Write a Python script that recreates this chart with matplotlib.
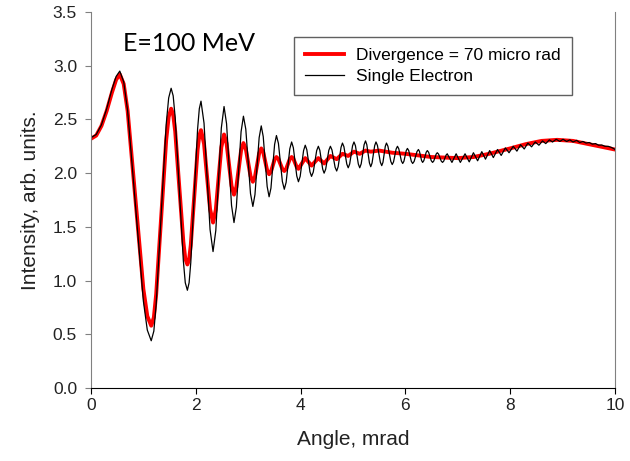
import matplotlib
matplotlib.use("Agg")
import matplotlib.pyplot as plt
import numpy as np

plt.rcParams['font.family'] = ['Liberation Sans', 'DejaVu Sans']

# single electron curve
single_x = [0.00, 0.10, 0.20, 0.30, 0.40, 0.48, 0.55, 0.625, 0.70, 0.85,
            1.00, 1.075, 1.15, 1.20, 1.245, 1.34, 1.435, 1.483, 1.53, 1.569,
            1.608, 1.685, 1.763, 1.80, 1.84, 1.873, 1.905, 1.97, 2.035, 2.068,
            2.10, 2.158, 2.215, 2.273, 2.33, 2.383, 2.435, 2.488, 2.54, 2.588,
            2.635, 2.683, 2.73, 2.775, 2.82, 2.865, 2.91, 2.955, 3.00, 3.045,
            3.09, 3.13, 3.17, 3.21, 3.25, 3.288, 3.325, 3.363, 3.40, 3.435,
            3.47, 3.505, 3.54, 3.578, 3.615, 3.653, 3.69, 3.725, 3.76, 3.795,
            3.83, 3.863, 3.895, 3.928, 3.96, 3.993, 4.025, 4.058, 4.09, 4.12,
            4.15, 4.18, 4.21, 4.243, 4.275, 4.308, 4.34, 4.368, 4.395, 4.423,
            4.45, 4.48, 4.51, 4.54, 4.57, 4.60, 4.63, 4.66, 4.69, 4.718,
            4.745, 4.773, 4.80, 4.828, 4.855, 4.883, 4.91, 4.938, 4.965, 4.993,
            5.02, 5.048, 5.103, 5.13, 5.158, 5.213, 5.24, 5.265, 5.315, 5.34,
            5.365, 5.415, 5.44, 5.468, 5.523, 5.55, 5.573, 5.618, 5.64, 5.668,
            5.723, 5.75, 5.775, 5.825, 5.85, 5.875, 5.925, 5.95, 5.973, 6.018,
            6.04, 6.065, 6.115, 6.14, 6.168, 6.223, 6.25, 6.27, 6.31, 6.33,
            6.353, 6.398, 6.42, 6.445, 6.495, 6.52, 6.543, 6.588, 6.61, 6.635,
            6.685, 6.71, 6.733, 6.778, 6.80, 6.89, 6.97,
            7.05, 7.14, 7.22, 7.30, 7.38, 7.46, 7.53, 7.61, 7.68, 7.76,
            7.83, 7.91, 7.98, 8.06, 8.13, 8.20, 8.27, 8.34, 8.41, 8.48,
            8.55, 8.62, 8.68, 8.75, 8.81, 8.88, 8.95, 9.01, 9.08, 9.14,
            9.20, 9.27, 9.33, 9.39, 9.45, 9.51, 9.57, 9.63, 9.69, 9.75,
            9.81, 9.87, 9.93, 9.99, 10.0]
single_y = [2.33, 2.36, 2.45, 2.60, 2.78, 2.90, 2.95, 2.85, 2.58, 1.695,
            0.81, 0.54, 0.44, 0.53, 0.78, 1.615, 2.45, 2.70, 2.79, 2.72,
            2.515, 1.85, 1.185, 0.98, 0.91, 0.98, 1.167, 1.79, 2.41, 2.60,
            2.67, 2.465, 1.97, 1.475, 1.27, 1.467, 1.945, 2.42, 2.62, 2.46,
            2.08, 1.70, 1.54, 1.685, 2.035, 2.385, 2.53, 2.41, 2.11, 1.81,
            1.69, 1.80, 2.065, 2.33, 2.44, 2.34, 2.11, 1.876, 1.78, 1.86,
            2.065, 2.267, 2.35, 2.277, 2.10, 1.923, 1.85, 1.914, 2.07, 2.226,
            2.29, 2.236, 2.105, 1.974, 1.92, 1.97, 2.09, 2.21, 2.26, 2.218,
            2.115, 2.012, 1.97, 2.01, 2.11, 2.21, 2.25, 2.213, 2.125, 2.037,
            2.00, 2.037, 2.125, 2.213, 2.25, 2.216, 2.135, 2.054, 2.02, 2.06,
            2.15, 2.24, 2.28, 2.246, 2.165, 2.084, 2.05, 2.085, 2.17, 2.255,
            2.29, 2.255, 2.085, 2.05, 2.087, 2.264, 2.30, 2.265, 2.095, 2.06,
            2.094, 2.256, 2.29, 2.258, 2.102, 2.07, 2.10, 2.25, 2.28, 2.25,
            2.109, 2.08, 2.105, 2.225, 2.25, 2.227, 2.113, 2.09, 2.11, 2.21,
            2.23, 2.21, 2.11, 2.09, 2.109, 2.201, 2.22, 2.202, 2.118, 2.10,
            2.116, 2.194, 2.21, 2.194, 2.116, 2.10, 2.113, 2.177, 2.19, 2.177,
            2.113, 2.10, 2.112, 2.168, 2.18, 2.10, 2.18,
            2.10, 2.18, 2.105, 2.19, 2.115, 2.20, 2.13, 2.21, 2.145, 2.22,
            2.165, 2.235, 2.19, 2.25, 2.205, 2.265, 2.225, 2.28, 2.245, 2.29,
            2.26, 2.30, 2.275, 2.31, 2.29, 2.315, 2.295, 2.315, 2.295, 2.31,
            2.29, 2.305, 2.285, 2.295, 2.28, 2.285, 2.27, 2.275, 2.26, 2.262,
            2.25, 2.25, 2.24, 2.225, 2.22]

# beam with 70 micro rad divergence
div_x = [0.00, 0.10, 0.20, 0.30, 0.40, 0.48, 0.55, 0.625, 0.70, 0.85,
         1.00, 1.075, 1.15, 1.20, 1.245, 1.34, 1.435, 1.483, 1.53, 1.569,
         1.608, 1.685, 1.763, 1.80, 1.84, 1.873, 1.905, 1.97, 2.035, 2.068,
         2.10, 2.158, 2.215, 2.273, 2.33, 2.383, 2.435, 2.488, 2.54, 2.588,
         2.635, 2.683, 2.73, 2.775, 2.865, 2.91, 2.955, 3.045, 3.09, 3.13,
         3.21, 3.25, 3.288, 3.363, 3.40, 3.435, 3.505, 3.54, 3.578, 3.653,
         3.69, 3.725, 3.795, 3.83, 3.863, 3.928, 3.96, 4.09, 4.21, 4.34,
         4.45, 4.57, 4.69, 4.80, 4.91, 5.02, 5.13, 5.24, 5.34, 5.50,
         5.75, 6.00, 6.50, 7.00, 7.30, 7.60, 8.00, 8.30, 8.60, 8.90,
         9.20, 9.50, 9.80, 10.0]
div_y = [2.32, 2.35, 2.44, 2.58, 2.75, 2.87, 2.92, 2.83, 2.578, 1.75,
         0.922, 0.67, 0.58, 0.657, 0.875, 1.59, 2.305, 2.523, 2.60, 2.545,
         2.388, 1.875, 1.362, 1.205, 1.15, 1.197, 1.33, 1.775, 2.217, 2.35,
         2.40, 2.274, 1.97, 1.666, 1.54, 1.66, 1.95, 2.24, 2.36, 2.278,
         2.08, 1.882, 1.80, 1.87, 2.21, 2.28, 2.227, 1.973, 1.92, 1.965,
         2.185, 2.23, 2.195, 2.025, 1.99, 2.013, 2.127, 2.15, 2.131, 2.039,
         2.02, 2.039, 2.131, 2.15, 2.134, 2.056, 2.04, 2.14, 2.07, 2.14,
         2.09, 2.16, 2.13, 2.18, 2.16, 2.20, 2.18, 2.21, 2.20, 2.21,
         2.19, 2.18, 2.15, 2.14, 2.15, 2.18, 2.23, 2.27, 2.30, 2.31,
         2.30, 2.27, 2.24, 2.22]

x_ticks = [0, 2, 4, 6, 8, 10]
y_ticks = np.arange(0, 3.51, 0.5)

fig = plt.figure(figsize=(6.3, 4.61), dpi=100)
ax = fig.add_axes([0.1444, 0.1583, 0.8316, 0.8157])

ax.plot(div_x, div_y, color='#ff0000', lw=2.8, label='Divergence = 70 micro rad',
        solid_joinstyle='round')
ax.plot(single_x, single_y, color='black', lw=0.9, label='Single Electron')

ax.set_xlim(0, 10)
ax.set_ylim(0, 3.5)
ax.set_xticks(x_ticks)
ax.set_yticks(y_ticks)
ax.set_yticklabels([f"{v:.1f}" for v in y_ticks])
ax.tick_params(direction='out', length=4, labelsize=12.5, labelcolor='#222222')
ax.tick_params(axis='y', colors='#808080', labelcolor='#222222', pad=6)

ax.spines['top'].set_visible(False)
ax.spines['left'].set_color('#808080')
ax.spines['right'].set_color('#808080')
ax.spines['bottom'].set_color('black')

ax.set_xlabel('Angle, mrad', fontsize=15, labelpad=12, color='#222222')
ax.set_ylabel('Intensity, arb. units.', fontsize=15, labelpad=9, color='#222222')

ax.text(1.87, 3.21, 'E=100 MeV', fontsize=18, family=['Lato', 'DejaVu Sans'],
        ha='center', va='center')

leg = ax.legend(loc='upper left', bbox_to_anchor=(0.387, 0.934), fontsize=12.5,
                fancybox=False, edgecolor='#606060', framealpha=1,
                borderpad=0.65, handlelength=2.25, handletextpad=0.7,
                labelspacing=0.3, borderaxespad=0)
leg.get_frame().set_linewidth(1.0)

fig.savefig('out.png', dpi=100)
